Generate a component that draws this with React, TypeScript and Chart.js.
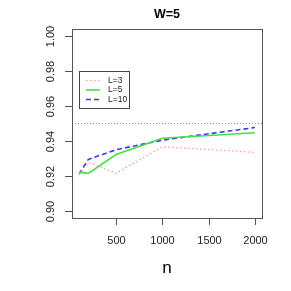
import React, { useEffect, useRef } from "react";
import { Chart, registerables } from "chart.js";

Chart.register(...registerables);

const sampleSizes = [100, 200, 500, 1000, 2000];
const coverageL3 = [0.921, 0.9278, 0.9215, 0.9367, 0.9335];
const coverageL5 = [0.9222, 0.9215, 0.9323, 0.9416, 0.9447];
const coverageL10 = [0.921, 0.9295, 0.935, 0.9405, 0.9477];
const nominalLevel = 0.95;
const xTicks = [500, 1000, 1500, 2000];
const yTicks = [0.9, 0.92, 0.94, 0.96, 0.98, 1.0];
const seriesLabels = ["L=3", "L=5", "L=10"];
const titleText = "W=5";
const xTitle = "n";

const FONT = "'Liberation Sans', Arial, Helvetica, sans-serif";

const rAxesPlugin = {
  id: "rAxes",
  afterDraw(chart: any) {
    const ctx = chart.ctx;
    const { left, right, top, bottom } = chart.chartArea;
    const xs = chart.scales.x;
    const ys = chart.scales.y;
    ctx.save();
    // box
    ctx.strokeStyle = "#555";
    ctx.lineWidth = 1;
    ctx.setLineDash([]);
    ctx.strokeRect(Math.round(left) + 0.5, Math.round(top) + 0.5, Math.round(right - left), Math.round(bottom - top));
    // x ticks
    ctx.fillStyle = "#222";
    ctx.font = `11px ${FONT}`;
    ctx.textAlign = "center";
    ctx.textBaseline = "top";
    for (const t of xTicks) {
      const px = Math.round(xs.getPixelForValue(t)) + 0.5;
      ctx.beginPath();
      ctx.moveTo(px, Math.round(bottom));
      ctx.lineTo(px, Math.round(bottom) + 7);
      ctx.stroke();
      ctx.fillText(String(t), px, bottom + 17);
    }
    // y ticks
    for (const t of yTicks) {
      const py = Math.round(ys.getPixelForValue(t)) + 0.5;
      ctx.beginPath();
      ctx.moveTo(Math.round(left), py);
      ctx.lineTo(Math.round(left) - 7, py);
      ctx.stroke();
      ctx.save();
      ctx.translate(left - 21, py);
      ctx.rotate(-Math.PI / 2);
      ctx.textAlign = "center";
      ctx.textBaseline = "middle";
      ctx.fillText(t.toFixed(2), 0, 0);
      ctx.restore();
    }
    // title
    ctx.font = `bold 12.5px ${FONT}`;
    ctx.textAlign = "center";
    ctx.textBaseline = "middle";
    ctx.fillStyle = "#000";
    ctx.fillText(titleText, (left + right) / 2, 15);
    // x title
    ctx.font = `17px ${FONT}`;
    ctx.fillText(xTitle, (left + right) / 2, 268);
    // legend
    const lx = 79.5, ly = 71.5, lw = 50, lh = 37;
    ctx.fillStyle = "#fff";
    ctx.fillRect(lx, ly, lw, lh);
    ctx.strokeStyle = "#444";
    ctx.lineWidth = 1;
    ctx.strokeRect(lx, ly, lw, lh);
    const ds = chart.data.datasets;
    const rows = [80.5, 90, 99.5];
    for (let i = 0; i < 3; i++) {
      const d = ds[i];
      ctx.strokeStyle = d.borderColor;
      ctx.lineWidth = d.borderWidth;
      ctx.setLineDash(d.borderDash || []);
      ctx.beginPath();
      ctx.moveTo(86, rows[i]);
      ctx.lineTo(100, rows[i]);
      ctx.stroke();
      ctx.setLineDash([]);
      ctx.fillStyle = "#222";
      ctx.font = `8.5px ${FONT}`;
      ctx.textAlign = "left";
      ctx.textBaseline = "middle";
      ctx.fillText(seriesLabels[i], 108, rows[i]);
    }
    ctx.restore();
  },
};

export default function App() {
  const ref = useRef<HTMLCanvasElement>(null);
  useEffect(() => {
    if (!ref.current) return;
    const mk = (vals: number[]) => sampleSizes.map((x, i) => ({ x, y: vals[i] }));
    const chart = new Chart(ref.current, {
      type: "line",
      data: {
        datasets: [
          {
            label: seriesLabels[0],
            data: mk(coverageL3),
            borderColor: "#ff9a9a",
            borderWidth: 1.2,
            borderDash: [1.5, 2.5],
            pointRadius: 0,
            tension: 0,
          },
          {
            label: seriesLabels[1],
            data: mk(coverageL5),
            borderColor: "#44e044",
            borderWidth: 1.6,
            pointRadius: 0,
            tension: 0,
          },
          {
            label: seriesLabels[2],
            data: mk(coverageL10),
            borderColor: "#3a3aff",
            borderWidth: 1.6,
            borderDash: [5, 3],
            pointRadius: 0,
            tension: 0,
          },
          {
            label: "nominal",
            data: [
              { x: 24, y: nominalLevel },
              { x: 2076, y: nominalLevel },
            ],
            borderColor: "#8a8a8a",
            borderWidth: 1,
            borderDash: [1, 2],
            pointRadius: 0,
          },
        ],
      },
      options: {
        animation: false,
        responsive: false,
        maintainAspectRatio: false,
        layout: { padding: { left: 72, top: 29, right: 29, bottom: 73 } },
        plugins: { legend: { display: false }, tooltip: { enabled: false }, title: { display: false } },
        scales: {
          x: { type: "linear", min: 24, max: 2076, display: false },
          y: { type: "linear", min: 0.896, max: 1.004, display: false },
        },
      },
      plugins: [rAxesPlugin],
    });
    return () => chart.destroy();
  }, []);
  return (
    <div style={{ position: "fixed", left: 0, top: 0, width: 291, height: 291, background: "#fff" }}>
      <canvas ref={ref} width={291} height={291} style={{ width: 291, height: 291 }} />
    </div>
  );
}
